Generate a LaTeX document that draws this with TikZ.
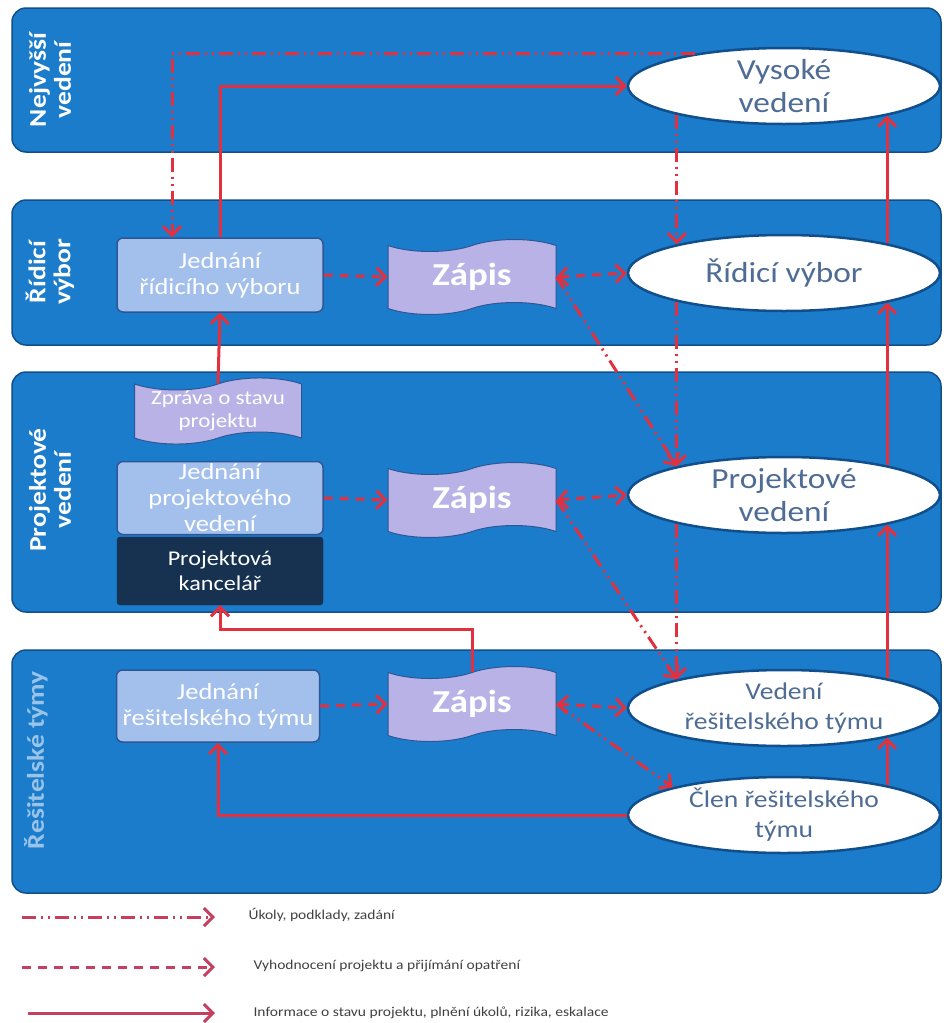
\documentclass[tikz,border=0pt]{standalone}
\usepackage{fontspec}
\setmainfont{Carlito}[FakeStretch=1.15]
\usetikzlibrary{shapes.geometric,shapes.symbols,arrows.meta,positioning}
\definecolor{bandblue}{RGB}{28,124,204}
\definecolor{banddark}{RGB}{16,78,140}
\definecolor{meetfill}{RGB}{163,192,236}
\definecolor{meetline}{RGB}{44,86,150}
\definecolor{zapisfill}{RGB}{184,178,230}
\definecolor{officefill}{RGB}{22,50,80}
\definecolor{unittext}{RGB}{78,108,148}
\definecolor{arrowred}{RGB}{226,48,62}
\definecolor{legendred}{RGB}{196,64,94}
\tikzset
{
    >={Straight Barb[length=9pt,width=18pt,line width=3pt]},
    band/.style      = {draw=banddark, line width=1.5pt, fill=bandblue, rounded corners=14pt},
    sidelabel/.style = {rotate=90, align=center, text=white, font=\fontsize{24}{25}\selectfont\bfseries},
    meeting/.style   = {rectangle, rounded corners=6pt, draw=meetline, line width=1.5pt, fill=meetfill, align=center, text=white, inner sep=1pt, minimum width=206pt, font=\fontsize{23}{26}\selectfont},
    office/.style    = {rectangle, rounded corners=3pt, draw=officefill, fill=officefill, align=center, text=white, inner sep=2pt, minimum width=206pt, font=\fontsize{21}{25}\selectfont},
    zapis/.style     = {tape, tape bend top=in and out, tape bend bottom=in and out, tape bend height=12pt, draw=meetline, line width=1pt, fill=zapisfill, align=center, text=white, inner sep=1pt, minimum width=168pt, minimum height=75pt, font=\fontsize{32}{36}\selectfont\bfseries},
    unit/.style      = {ellipse, draw=banddark, line width=2.5pt, fill=white, align=center, text=unittext, inner sep=0pt, minimum width=312pt, minimum height=76pt, font=\fontsize{29}{33}\selectfont},
    task/.style      = {draw=arrowred, line width=3pt, dash pattern=on 14pt off 5pt on 2pt off 5pt on 2pt off 5pt, ->},
    review/.style    = {draw=arrowred, line width=3pt, dash pattern=on 9pt off 7pt, ->},
    info/.style      = {draw=arrowred, line width=3pt, ->},
    legendtext/.style = {anchor=west, text=black!75, font=\fontsize{13.5}{15}\selectfont}
}
\begin{document}
\begin{tikzpicture}[x=1pt, y=-1pt]
	\useasboundingbox (0,0) rectangle (944,1023);
	\draw[band] (12,8) rectangle (941,152);
	\draw[band] (12,200) rectangle (941,345);
	\draw[band] (12,372) rectangle (941,612);
	\draw[band] (12,650) rectangle (941,893);

	\node[sidelabel] (nvl) at (50,80) {Nejvyšší\\vedení};
	\node[sidelabel] (rvl) at (50,272) {Řídicí\\výbor};
	\node[sidelabel] (pvl) at (50,490) {Projektové\\vedení};
	\node[sidelabel, text=white!55!bandblue] (rtl) at (36,760) {Řešitelské týmy};

	\node[unit] (vv) at (784,86) {Vysoké\\vedení};
	\node[unit] (rv) at (784,273) {Řídicí výbor};
	\node[unit] (pv) at (784,495) {Projektové\\vedení};
	\node[unit, font=\fontsize{24}{30}\selectfont] (vt) at (784,708) {Vedení\\řešitelského týmu};
	\node[unit, font=\fontsize{24}{30}\selectfont] (cl) at (784,815) {Člen řešitelského\\týmu};

	\node[meeting, minimum height=74pt] (jrv) at (220,275) {Jednání\\řídicího výboru};
	\node[zapis] (z1) at (472,277) {Zápis};
	\node[zapis, minimum width=167pt, minimum height=57pt, font=\fontsize{20}{23}\selectfont] (zpr) at (218,411) {Zpráva o stavu\\projektu};
	\node[meeting, minimum height=73pt] (jpv) at (220,498) {Jednání\\projektového\\vedení};
	\node[office, minimum height=68pt] (pk) at (220,571) {Projektová\\kancelář};
	\node[zapis] (z2) at (472,500) {Zápis};
	\node[meeting, minimum width=203pt, minimum height=72pt] (jrt) at (218,706) {Jednání\\řešitelského týmu};
	\node[zapis] (z3) at (472,704) {Zápis};

	\draw[task] (vv.160) -| ([xshift=-48pt]jrv.north);
	\draw[task] (vv.195) -- (rv.165);
	\draw[task] (rv.195) -- (pv.165);
	\draw[task] (pv.195) -- (vt.165);
	\draw[task] (z1.east) -- (pv.165);
	\draw[task] (z2.east) -- (vt.165);
	\draw[task] (z3.east) -- (cl.166);

	\draw[review] (jrv.east) -- (z1.west);
	\draw[review, <->] (z1.east) -- (rv.west);
	\draw[review] (jpv.east) -- (z2.west);
	\draw[review, <->] (z2.east) -- (pv.west);
	\draw[review] (jrt.east) -- (z3.west);
	\draw[review, <->] (z3.east) -- (vt.west);

	\draw[info] (jrv.north) |- (vv.west);
	\draw[info] (zpr.north) -- (jrv.south);
	\draw[info] (z3.north) -- ++(0,-43) -| (pk.south);
	\draw[info] (cl.west) -| (jrt.south);
	\draw[info] (cl.16) -- (vt.-16);
	\draw[info] (vt.16) -- (pv.-16);
	\draw[info] (pv.16) -- (rv.-16);
	\draw[info] (rv.16) -- (vv.-16);

	\coordinate (l1a) at (22,917);
	\coordinate (l1b) at (215,917);
	\coordinate (l2a) at (22,967);
	\coordinate (l2b) at (215,967);
	\coordinate (l3a) at (28,1013);
	\coordinate (l3b) at (215,1013);
	\draw[task, draw=legendred] (l1a) -- (l1b);
	\draw[review, draw=legendred] (l2a) -- (l2b);
	\draw[info, draw=legendred] (l3a) -- (l3b);
	\node[legendtext] (lt1) at (245,915) {Úkoly, podklady, zadání};
	\node[legendtext] (lt2) at (250,966) {Vyhodnocení projektu a přijímání opatření};
	\node[legendtext] (lt3) at (250,1013) {Informace o stavu projektu, plnění úkolů, rizika, eskalace};
\end{tikzpicture}
\end{document}
